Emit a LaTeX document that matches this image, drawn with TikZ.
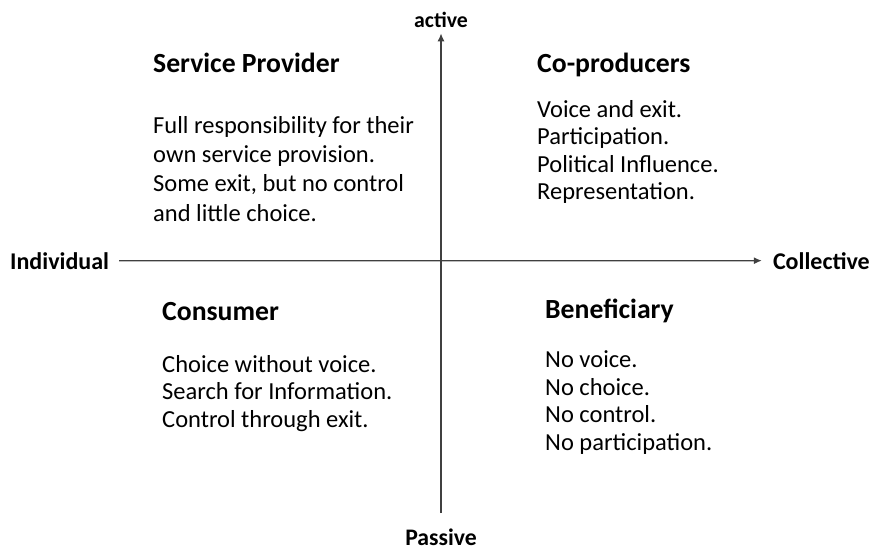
\documentclass[tikz,border=0pt]{standalone}
\usepackage{fontspec}
\setsansfont{Carlito}
\usetikzlibrary{arrows.meta}

\begin{document}
\begin{tikzpicture}[x=1pt,y=-1pt,font=\sffamily,>={Latex[length=8pt,width=7pt]}]
   \tikzset{
      axislabel/.style={font=\sffamily\bfseries\fontsize{24}{28}\selectfont,inner sep=0pt},
      heading/.style={font=\sffamily\bfseries\fontsize{27.7}{32}\selectfont,anchor=base west,inner sep=0pt},
      % base of a multi-line node is its last line
      body/.style={font=\sffamily\fontsize{24.5}{27.5}\selectfont,anchor=base west,align=left,inner sep=0pt}
   }
   \useasboundingbox (0,0) rectangle (874,555);
   % Axis labels
   \node [axislabel,anchor=base,font=\sffamily\bfseries\fontsize{21.8}{25}\selectfont] (act) at (441,27) {active};
   \node [axislabel,anchor=base,font=\sffamily\bfseries\fontsize{23.7}{28}\selectfont] (pas) at (441,545) {Passive};
   \node [axislabel,anchor=base west] (ind) at (10,269) {Individual};
   \node [axislabel,anchor=base east] (col) at (870,269) {Collective};
   % Axes
   \begin{scope}[black!75,line width=1.3pt]
      \draw [->,shorten <=10pt,shorten >=11pt] (ind.east) -- (col.west);
      \draw [->,shorten <=15pt,shorten >=6pt] (pas.north) -- (act.south);
   \end{scope}
   % Quadrants
   \node [heading] (sp) at (153,72) {Service Provider};
   \node [body,font=\sffamily\fontsize{24.5}{29.3}\selectfont] (sptext) at (153,221) {Full responsibility for their\\own service provision.\\Some exit, but no control\\and little choice.};
   \node [heading] (cp) at (537,72) {Co-producers};
   \node [body] (cptext) at (537,199.5) {Voice and exit.\\Participation.\\Political Influence.\\Representation.};
   \node [heading] (con) at (162,320) {Consumer};
   \node [body] (context) at (162,427) {Choice without voice.\\Search for Information.\\Control through exit.};
   \node [heading] (ben) at (545,318) {Beneficiary};
   \node [body] (bentext) at (545,450) {No voice.\\No choice.\\No control.\\No participation.};
\end{tikzpicture}
\end{document}
